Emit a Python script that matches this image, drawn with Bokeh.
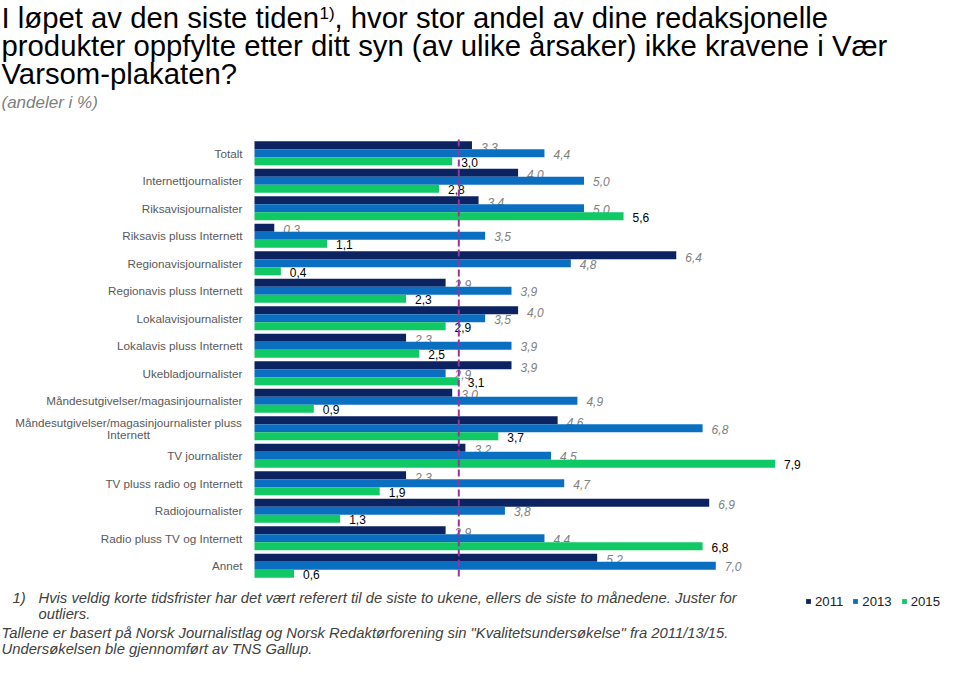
from bokeh.plotting import figure
from bokeh.models import ColumnDataSource, Range1d, Legend, LegendItem
from bokeh.transform import dodge
from bokeh.core.properties import value
from bokeh.embed import file_html
from bokeh.resources import INLINE

# ---------------- data ----------------
categories = [
    "Totalt",
    "Internettjournalister",
    "Riksavisjournalister",
    "Riksavis pluss Internett",
    "Regionavisjournalister",
    "Regionavis pluss Internett",
    "Lokalavisjournalister",
    "Lokalavis pluss Internett",
    "Ukebladjournalister",
    "Måndesutgivelser/magasinjournalister",
    "Måndesutgivelser/magasinjournalister pluss\nInternett",
    "TV journalister",
    "TV pluss radio og Internett",
    "Radiojournalister",
    "Radio pluss TV og Internett",
    "Annet",
]
v2011 = [3.3, 4.0, 3.4, 0.3, 6.4, 2.9, 4.0, 2.3, 3.9, 3.0, 4.6, 3.2, 2.3, 6.9, 2.9, 5.2]
v2013 = [4.4, 5.0, 5.0, 3.5, 4.8, 3.9, 3.5, 3.9, 2.9, 4.9, 6.8, 4.5, 4.7, 3.8, 4.4, 7.0]
v2015 = [3.0, 2.8, 5.6, 1.1, 0.4, 2.3, 2.9, 2.5, 3.1, 0.9, 3.7, 7.9, 1.9, 1.3, 6.8, 0.6]
years = ["2011", "2013", "2015"]
avg_line = 3.1

title_parts = [
    "I løpet av den siste tiden",
    "1)",
    ", hvor stor andel av dine redaksjonelle",
    "produkter oppfylte etter ditt syn (av ulike årsaker) ikke kravene i Vær",
    "Varsom-plakaten?",
]
subtitle = "(andeler i %)"
footnote_mark = "1)"
footnote = [
    "Hvis veldig korte tidsfrister  har det vært referert til de siste to ukene, ellers  de siste to månedene.  Juster for",
    "outliers.",
]
source_note = [
    "Tallene er  basert på Norsk Journalistlag og Norsk Redaktørforening sin \"Kvalitetsundersøkelse\" fra 2011/13/15.",
    "Undersøkelsen ble gjennomført av TNS Gallup.",
]

# ---------------- layout constants (picture pixels) ----------------
C2011, C2013, C2015 = "#0b2361", "#0b6fc1", "#10c864"
FONT = "Liberation Sans"
W, H = 944, 657
ZERO_X = 254          # x of value 0
PX_PER_UNIT = 65.9    # pixels per percentage point
BAND_TOP = 139        # y of top of first category band
PITCH = 27.5          # pixels per category
N = len(categories)


def xd(px):  # pixel x -> data x
    return (px - ZERO_X) / PX_PER_UNIT


def yd(py):  # pixel y -> data y (category index units, increasing downwards)
    return (py - BAND_TOP - PITCH / 2) / PITCH


def fmt(v):
    return f"{v:.1f}".replace(".", ",")


p = figure(width=W, height=H, x_range=Range1d(xd(0), xd(W)),
           y_range=Range1d(yd(H), yd(0)),
           output_backend="svg", toolbar_location=None,
           x_axis_location=None, y_axis_location=None, min_border=0)
p.outline_line_color = None
p.grid.visible = False

idx = list(range(N))
src = ColumnDataSource(dict(
    idx=idx, cat=categories, y2011=v2011, y2013=v2013, y2015=v2015,
    t2011=[fmt(v) for v in v2011], t2013=[fmt(v) for v in v2013], t2015=[fmt(v) for v in v2015],
))

# category labels (right aligned left of the bars; two-line label centred)
single = [i for i, c in enumerate(categories) if "\n" not in c]
multi = [i for i, c in enumerate(categories) if "\n" in c]
lab_style = dict(text_font=value(FONT), text_font_size="11.7px", text_color="#595959",
                 text_baseline="middle")
p.text(x=xd(242), y=single, text=[categories[i] for i in single], text_align="right", **lab_style)
p.text(x=xd(128), y=multi, text=[categories[i] for i in multi], text_align="center",
       text_line_height=0.95, **lab_style)

BAR = 8 / PITCH
series = [("y2011", "t2011", -BAR, C2011, "#808080", "italic", 2),
          ("y2013", "t2013", 0.0, C2013, "#808080", "italic", 1),
          ("y2015", "t2015", BAR, C2015, "black", "normal", 1)]
bar_renderers = []
for col, tcol, off, color, tcolor, tstyle, yoff in series:
    r = p.hbar(y=dodge("idx", off), left=0, right=col, height=BAR,
               fill_color=color, line_color=None, source=src)
    bar_renderers.append(r)
    p.text(x=col, y=dodge("idx", off), text=tcol, source=src,
           x_offset=9, y_offset=yoff, text_baseline="middle", text_align="left",
           text_font=value(FONT), text_font_size="12px", text_font_style=tstyle,
           text_color=tcolor)

# average line across all category bands
p.segment(x0=avg_line, x1=avg_line, y0=-0.5, y1=N - 0.5, line_color="#a0309e",
          line_dash="7 3", line_width=2)


def add_text(texts, X, Ys, size, color="black", style="normal"):
    """Texts with their left edge at pixel X and their vertical middle at pixels Ys."""
    p.text(x=[xd(X)] * len(texts), y=[yd(Y) for Y in Ys], text=texts,
           text_font=value(FONT), text_font_size=size, text_color=color,
           text_font_style=style, text_align="left", text_baseline="middle")


# title
add_text([title_parts[0]], 1, [16.5], "29.3px")
add_text([title_parts[1]], 319, [13], "17px")
add_text([title_parts[2]], 334, [16.5], "29.3px")
add_text([title_parts[3], title_parts[4]], 1, [44.5, 72.5], "29.3px")
add_text([subtitle], 1, [102], "17px", "#808080", "italic")

# footer
FOOT = dict(size="14.8px", color="#404040", style="italic")
add_text([footnote_mark], 12, [597], **FOOT)
add_text(footnote, 38, [597, 613.5], **FOOT)
add_text(source_note, 1, [632, 648.5], **FOOT)

# legend: location is the legend's bottom-left corner, measured from the canvas bottom-left
leg = Legend(items=[LegendItem(label=y, renderers=[r]) for y, r in zip(years, bar_renderers)],
             orientation="horizontal", location=(805, H - 609),
             glyph_width=6, glyph_height=6, label_height=16, label_standoff=4, spacing=9,
             padding=0, margin=0, border_line_color=None, background_fill_alpha=0,
             label_text_font=FONT, label_text_font_size="13.2px", label_text_color="#222222")
p.add_layout(leg)

open("out.html", "w").write(file_html(p, INLINE))
